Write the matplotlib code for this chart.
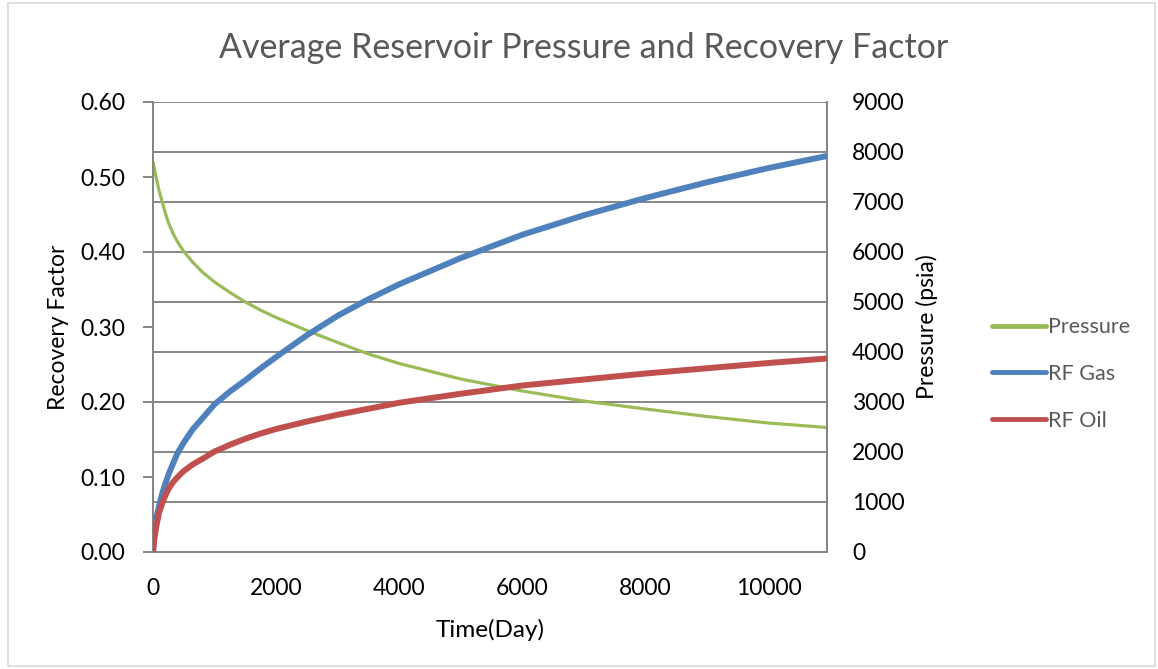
import matplotlib.pyplot as plt
from matplotlib.patches import Rectangle

plt.rcParams["font.family"] = ["Lato", "DejaVu Sans"]

# values
time_day = [0, 20, 50, 100, 150, 200, 250, 325, 400, 500, 650, 800, 1000, 1250,
            1500, 1750, 2000, 2500, 3000, 3500, 4000, 5000, 6000, 7000, 8000,
            9000, 10000, 10950]
pressure = [7800, 7690, 7500, 7220, 7000, 6780, 6590, 6370, 6200, 6010, 5790,
            5600, 5400, 5190, 5000, 4835, 4690, 4430, 4190, 3960, 3770, 3460,
            3220, 3020, 2860, 2710, 2580, 2490]
rf_gas = [0.0, 0.026, 0.044, 0.062, 0.078, 0.091, 0.103, 0.118, 0.132, 0.146,
          0.164, 0.178, 0.197, 0.214, 0.229, 0.245, 0.260, 0.289, 0.315, 0.337,
          0.357, 0.392, 0.423, 0.449, 0.472, 0.493, 0.512, 0.528]
rf_oil = [0.0, 0.016, 0.033, 0.053, 0.065, 0.075, 0.084, 0.093, 0.100, 0.108,
          0.117, 0.124, 0.134, 0.143, 0.151, 0.158, 0.164, 0.174, 0.183, 0.191,
          0.199, 0.211, 0.222, 0.230, 0.238, 0.245, 0.252, 0.258]

GREEN = "#9BBB59"
BLUE = "#4F81BD"
RED = "#C0504D"
AXIS_GRAY = "#868686"
TEXT_GRAY = "#595959"

fig = plt.figure(figsize=(11.58, 6.69), dpi=100)
fig.patches.append(Rectangle((8 / 1158, 3 / 669), 1147 / 1158, 663 / 669,
                             transform=fig.transFigure, fill=False,
                             edgecolor="#D9D9D9", linewidth=1.2))

ax = fig.add_axes([153 / 1158, 1 - 552 / 669, 674 / 1158, 450 / 669])
ax2 = ax.twinx()

# gridlines follow the pressure axis
ax2.set_ylim(0, 9000)
ax2.set_yticks(range(0, 9001, 1000))
ax2.grid(True, axis="y", color=AXIS_GRAY, linewidth=1.4)
ax2.set_axisbelow(True)

ax.set_ylim(0, 0.60)
ax.set_yticks([0.0, 0.1, 0.2, 0.3, 0.4, 0.5, 0.6])
ax.set_yticklabels([f"{v:.2f}" for v in ax.get_yticks()])
ax.set_xlim(0, 10950)
ax.set_xticks(range(0, 10001, 2000))

l_gas, = ax.plot(time_day, rf_gas, color=BLUE, linewidth=4.3,
                 solid_capstyle="butt", solid_joinstyle="round",
                 label="RF Gas", zorder=3)
l_oil, = ax.plot(time_day, rf_oil, color=RED, linewidth=4.3,
                 solid_capstyle="butt", solid_joinstyle="round",
                 label="RF Oil", zorder=3)
l_p, = ax2.plot(time_day, pressure, color=GREEN, linewidth=2.3,
                solid_capstyle="butt", solid_joinstyle="round",
                label="Pressure", zorder=3)

# put primary axis (and its lines) above the twin so the gridlines stay below
ax.set_zorder(ax2.get_zorder() + 1)
ax.patch.set_visible(False)

for a in (ax, ax2):
    a.spines["top"].set_visible(False)
    for side in ("left", "right", "bottom"):
        a.spines[side].set_color(AXIS_GRAY)
        a.spines[side].set_linewidth(1.4)

ax.tick_params(axis="y", direction="out", length=7, width=1.4, color=AXIS_GRAY,
               labelsize=16.5, pad=13)
ax.tick_params(axis="x", length=0, labelsize=16.5, pad=19)
ax2.tick_params(axis="y", length=0, labelsize=16.5, pad=18)

ax.set_ylabel("Recovery Factor", fontsize=16.5, labelpad=8)
ax2.set_ylabel("Pressure (psia)", fontsize=16.5, labelpad=8)
ax.set_xlabel("Time(Day)", fontsize=17.5, labelpad=14)

fig.text(584 / 1158, 1 - 48 / 669, "Average Reservoir Pressure and Recovery Factor",
         ha="center", va="center", fontsize=24.5, color=TEXT_GRAY)

leg = fig.legend([l_p, l_gas, l_oil], ["Pressure", "RF Gas", "RF Oil"],
                 loc="center left", bbox_to_anchor=(973 / 1158, 1 - 374 / 669),
                 frameon=False, fontsize=15.5, handlelength=2.5, handletextpad=0.1,
                 labelspacing=1.25, labelcolor=TEXT_GRAY)
for h in leg.legend_handles:
    h.set_linewidth(3.5)
    h.set_solid_capstyle("round")

fig.savefig("out.png", dpi=100)
